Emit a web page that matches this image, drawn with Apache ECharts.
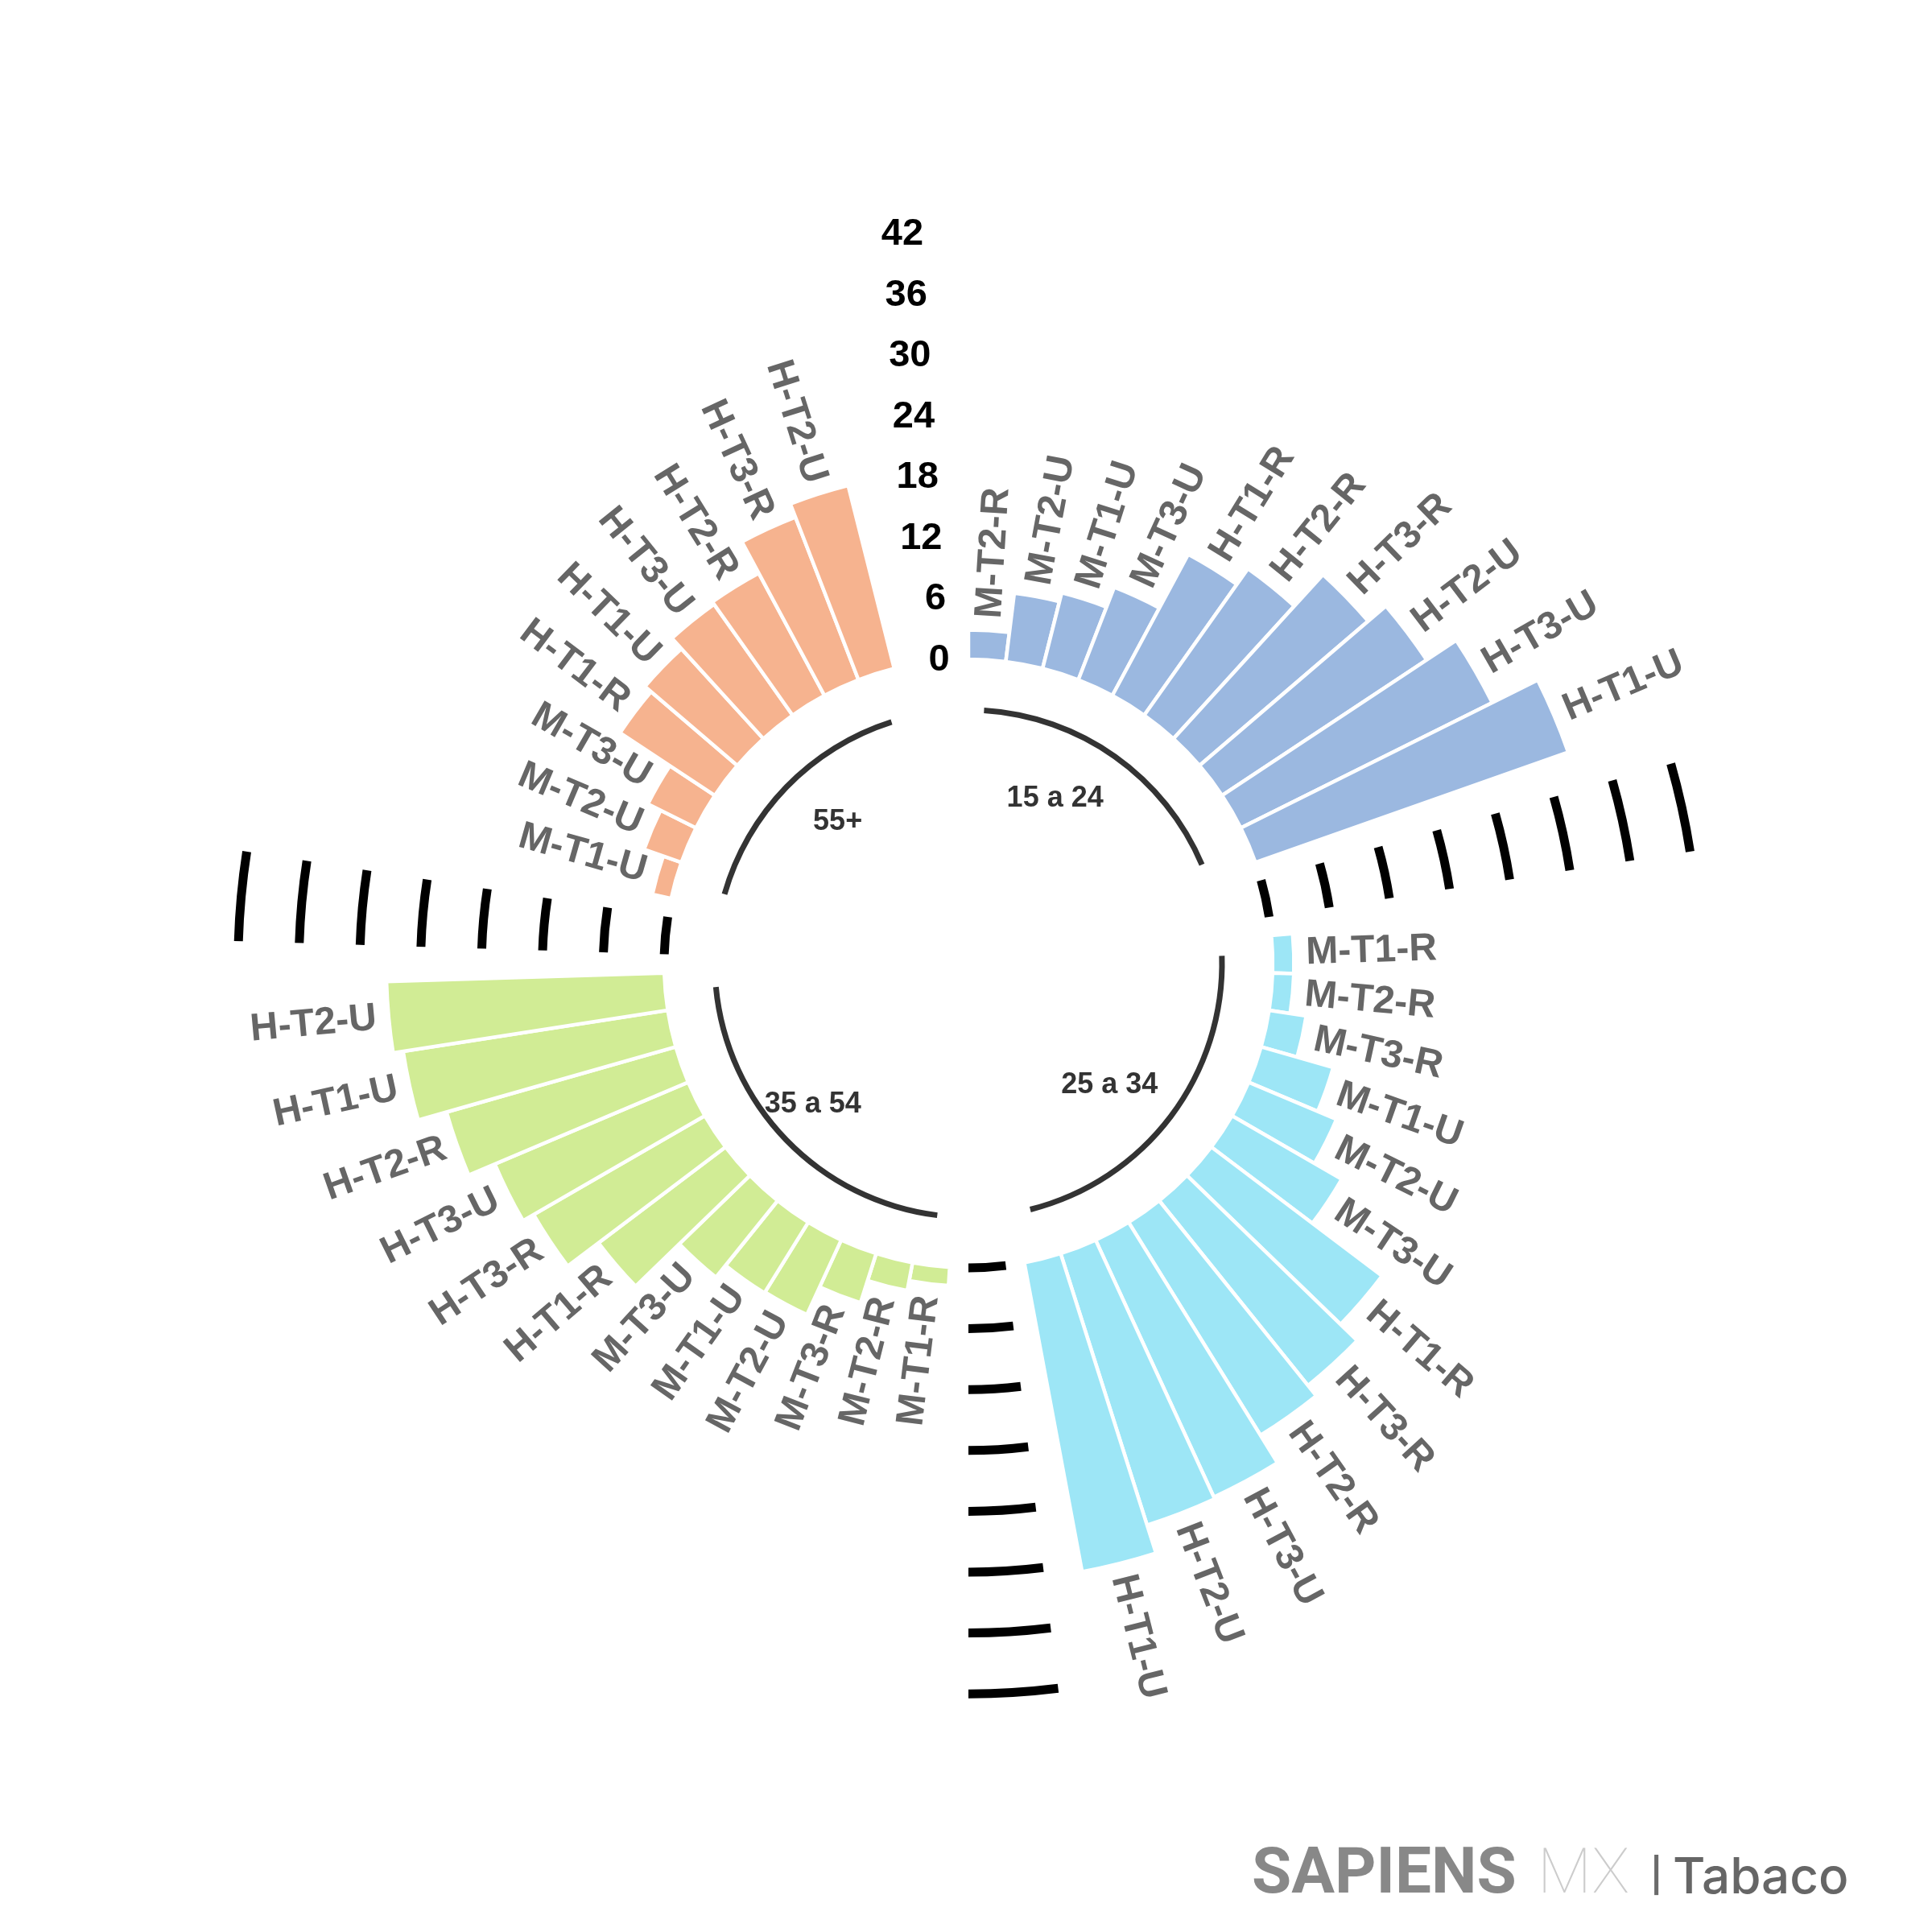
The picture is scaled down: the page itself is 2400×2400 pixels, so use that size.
<!DOCTYPE html>
<html>
<head>
<meta charset="utf-8">
<script src="https://cdn.jsdelivr.net/npm/echarts@6/dist/echarts.min.js"></script>
<style>
html,body{margin:0;padding:0;background:#ffffff;}
#chart{width:2400px;height:2400px;}
</style>
</head>
<body>
<div id="chart"></div>
<script>
// ================= DATA =================
const groupNames = ['15 a 24', '25 a 34', '35 a 54', '55+'];

const cats1524 = ['M-T2-R','M-T2-U','M-T1-U','M-T3-U','H-T1-R','H-T2-R','H-T3-R','H-T2-U','H-T3-U','H-T1-U'];
const vals1524 = [2.9, 6.8, 7.7, 9.8, 15.8, 17.7, 21.9, 24.2, 27.7, 32.7];

const cats2534 = ['M-T1-R','M-T2-R','M-T3-R','M-T1-U','M-T2-U','M-T3-U','H-T1-R','H-T3-R','H-T2-R','H-T3-U','H-T2-U','H-T1-U'];
const vals2534 = [2.1, 2.1, 3.7, 7.4, 9.4, 12.5, 21.1, 23.4, 24.7, 27.9, 28.1, 31.0];

const cats3554 = ['M-T1-R','M-T2-R','M-T3-R','M-T2-U','M-T1-U','M-T3-U','H-T1-R','H-T3-R','H-T3-U','H-T2-R','H-T1-U','H-T2-U'];
const vals3554 = [1.8, 2.8, 5.1, 8.1, 8.2, 9.7, 15.7, 19.5, 20.7, 23.5, 26.4, 27.4];

const cats55 = ['M-T1-U','M-T2-U','M-T3-U','H-T1-R','H-T1-U','H-T3-U','H-T2-R','H-T3-R','H-T2-U'];
const vals55 = [1.9, 3.9, 5.3, 11.2, 12.0, 13.4, 13.7, 17.2, 18.6];

const scaleTicks = [0, 6, 12, 18, 24, 30, 36, 42];

// ================= LAYOUT / STYLE =================
const EMPTY_PER_GAP = 2;
const GROUP_COLORS = ['#9BB8E0', '#9DE6F6', '#D1EC95', '#F6B38F'];
const LABEL_OFFSET = 1.2;      // value units beyond bar end
const BASE_LINE_VALUE = -5;    // group base arcs
// group title positions (radius value, angle in slot units)
const GROUP_LABEL_POS = [[-11.6, 3.92], [-11.65, 18.52], [-9.3, 32.27], [-11.0, 44.95]];
const FONT = '"Liberation Sans", Arial, Helvetica, sans-serif';

const groups = [
  { cats: cats1524, vals: vals1524 },
  { cats: cats2534, vals: vals2534 },
  { cats: cats3554, vals: vals3554 },
  { cats: cats55, vals: vals55 }
];

// build slot structure
const slotIds = [], slotValues = [], slotGroup = [], slotNames = [];
const groupRanges = [];
groups.forEach((g, gi) => {
  const start = slotIds.length;
  g.cats.forEach((c, i) => {
    slotIds.push('s' + slotIds.length);
    slotNames.push(c);
    slotValues.push(g.vals[i]);
    slotGroup.push(gi);
  });
  groupRanges.push([start, slotIds.length - 1]);
  for (let k = 0; k < EMPTY_PER_GAP; k++) {
    slotIds.push('s' + slotIds.length);
    slotNames.push('');
    slotValues.push(null);
    slotGroup.push(-1);
  }
});
const N = slotIds.length;

const barData = slotValues.map((v, i) => v == null ? '-' : { value: v, itemStyle: { color: GROUP_COLORS[slotGroup[i]] } });

// labels for bars: [radius value, angle (slot units)]
const barLabelItems = [];
slotValues.forEach((v, i) => {
  if (v != null) barLabelItems.push({ value: [v + LABEL_OFFSET, i + 0.5], text: slotNames[i] });
});

// base arcs per group
const baseArcData = groupRanges.map(r => [BASE_LINE_VALUE, r[0] + 0.5, r[1] + 0.5]);

// grid marks in gaps (not in the last gap)
const gridData = [];
groupRanges.slice(0, groupRanges.length - 1).forEach(r => {
  const a0 = r[1] + 1 + 0.5, a1 = r[1] + EMPTY_PER_GAP + 0.5;
  scaleTicks.forEach(t => gridData.push([t, a0, a1]));
});

// scale labels in last empty slot
const scaleLabelData = scaleTicks.map(t => [t, N - 1 + 0.5]);

const groupLabelData = GROUP_LABEL_POS.map(p => [p[0], p[1]]);

const RMIN_PX = 378, PX_PER_UNIT = 12.6, RMAX_VAL = 60;

// a thick arc drawn as a filled ring sector (butt ends)
function bandRender(width, color) {
  return function (params, api) {
    const cs = params.coordSys;
    const v = api.value(0);
    const p0 = api.coord([v, api.value(1)]);
    const p1 = api.coord([v, api.value(2)]);
    const r = Math.hypot(p0[0] - cs.cx, p0[1] - cs.cy);
    const s = Math.atan2(p0[1] - cs.cy, p0[0] - cs.cx);
    const e = Math.atan2(p1[1] - cs.cy, p1[0] - cs.cx);
    return {
      type: 'sector',
      silent: true,
      shape: { cx: cs.cx, cy: cs.cy, r0: r - width / 2, r: r + width / 2, startAngle: s, endAngle: e, clockwise: true },
      style: { fill: color, stroke: 'none', lineWidth: 0 }
    };
  };
}

const chart = echarts.init(document.getElementById('chart'), null, { renderer: 'canvas', width: 2400, height: 2400 });

const hiddenAxis = { axisLine: { show: false }, axisTick: { show: false }, axisLabel: { show: false }, splitLine: { show: false }, splitArea: { show: false } };

const option = {
  backgroundColor: '#ffffff',
  animation: false,
  polar: [
    { center: [1203, 1197], radius: [RMIN_PX, RMIN_PX + RMAX_VAL * PX_PER_UNIT] },
    { center: [1203, 1197], radius: [RMIN_PX, RMIN_PX + RMAX_VAL * PX_PER_UNIT] }
  ],
  angleAxis: [
    Object.assign({ polarIndex: 0, type: 'category', data: slotIds, startAngle: 90, clockwise: true, boundaryGap: true }, hiddenAxis),
    Object.assign({ polarIndex: 1, type: 'value', min: 0, max: N, startAngle: 90, clockwise: true }, hiddenAxis)
  ],
  radiusAxis: [
    Object.assign({ polarIndex: 0, type: 'value', min: 0, max: RMAX_VAL }, hiddenAxis),
    Object.assign({ polarIndex: 1, type: 'value', min: 0, max: RMAX_VAL }, hiddenAxis)
  ],
  series: [
    {
      type: 'bar',
      coordinateSystem: 'polar',
      polarIndex: 0,
      data: barData,
      barCategoryGap: '0%',
      itemStyle: { borderColor: '#ffffff', borderWidth: 4.5 },
      silent: true,
      z: 2
    },
    {
      type: 'custom',
      coordinateSystem: 'polar',
      polarIndex: 1,
      data: baseArcData,
      renderItem: bandRender(7, '#333333'),
      z: 3
    },
    {
      type: 'custom',
      coordinateSystem: 'polar',
      polarIndex: 1,
      data: gridData,
      renderItem: bandRender(11, '#000000'),
      z: 1
    },
    {
      type: 'custom',
      coordinateSystem: 'polar',
      polarIndex: 1,
      data: barLabelItems.map(d => d.value),
      renderItem: function (params, api) {
        const cs = params.coordSys;
        const p = api.coord([api.value(0), api.value(1)]);
        const dx = p[0] - cs.cx, dy = p[1] - cs.cy;
        let rot = Math.atan2(-dy, dx);
        let align = 'left';
        if (dx < 0) { rot += Math.PI; align = 'right'; }
        return {
          type: 'text', silent: true, x: p[0], y: p[1], rotation: rot,
          style: {
            text: barLabelItems[params.dataIndex].text,
            fill: '#666666', fontSize: 48, fontWeight: 'bold', fontFamily: FONT,
            align: align, verticalAlign: 'middle'
          }
        };
      },
      z: 4
    },
    {
      type: 'custom',
      coordinateSystem: 'polar',
      polarIndex: 1,
      data: scaleLabelData,
      renderItem: function (params, api) {
        const p = api.coord([api.value(0), api.value(1)]);
        return {
          type: 'text', silent: true, x: p[0], y: p[1],
          style: {
            text: String(scaleTicks[params.dataIndex]),
            fill: '#000000', fontSize: 47, fontWeight: 'bold', fontFamily: FONT,
            align: 'right', verticalAlign: 'middle'
          }
        };
      },
      z: 4
    },
    {
      type: 'custom',
      coordinateSystem: 'polar',
      polarIndex: 1,
      data: groupLabelData,
      renderItem: function (params, api) {
        const p = api.coord([api.value(0), api.value(1)]);
        return {
          type: 'text', silent: true, x: p[0], y: p[1],
          style: {
            text: groupNames[params.dataIndex],
            fill: '#333333', fontSize: 36, fontWeight: 'bold', fontFamily: FONT,
            align: 'center', verticalAlign: 'middle'
          }
        };
      },
      z: 4
    }
  ],
  graphic: [
    { type: 'text', x: 1555, y: 2331, silent: true,
      style: { text: 'SAPIENS', fontFamily: 'Roboto', fontWeight: 'bold', fontSize: 80, fill: '#888888', align: 'left', verticalAlign: 'middle' } },
    { type: 'text', x: 1910, y: 2331, silent: true,
      style: { text: 'MX', fontFamily: 'Roboto', fontWeight: 100, fontSize: 78, fill: '#cccccc', align: 'left', verticalAlign: 'middle' } },
    { type: 'text', x: 2050, y: 2331, silent: true,
      style: { text: '|', fontFamily: 'Roboto', fontWeight: 'bold', fontSize: 60, fill: '#6b6b6b', align: 'left', verticalAlign: 'middle' } },
    { type: 'text', x: 2078, y: 2333, silent: true,
      style: { text: 'Tabaco', fontFamily: 'Inter', fontWeight: 500, fontSize: 62, fill: '#666666', align: 'left', verticalAlign: 'middle' } }
  ]
};

chart.setOption(option);
</script>
</body>
</html>
